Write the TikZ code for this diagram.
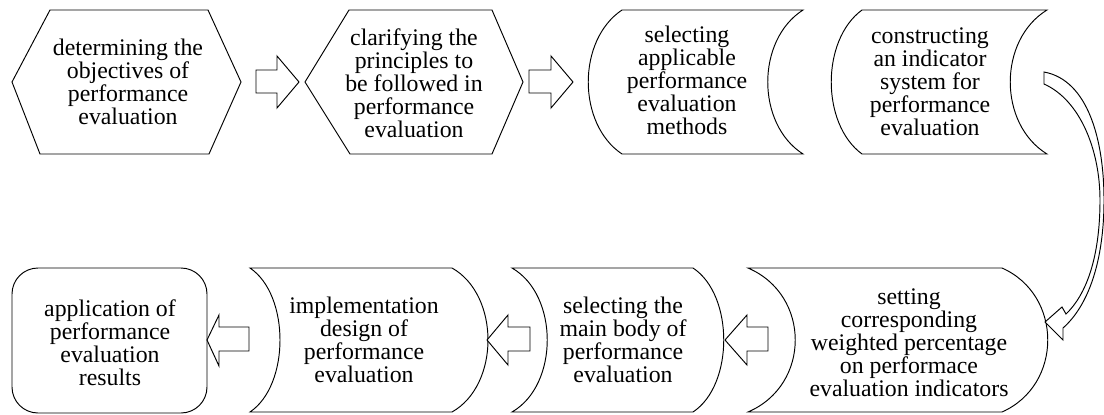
\documentclass[tikz,border=0pt]{standalone}
\usepackage{fontspec}
\setmainfont{Liberation Serif}
\begin{document}
\begin{tikzpicture}[x=1pt,y=-1pt,
  outline/.style={draw=black,line width=0.95pt,line join=miter,fill=white},
  label/.style={align=center,inner sep=0pt,font=\fontsize{23.8}{23}\selectfont}]
\useasboundingbox (0,0) rectangle (1104,415);

% ---- top row ----
% hexagon: objectives
\draw[outline] (12,82) -- (50,10) -- (208,10) -- (241,82) -- (209,154) -- (40,154) -- cycle;
\node[label] (goal) at (128,82) {determining the\\objectives of\\performance\\evaluation};

% hexagon: principles
\draw[outline] (305,82) -- (349,10) -- (492,10) -- (523,82) -- (492,154) -- (350,154) -- cycle;
\node[label] (principles) at (414,83) {clarifying the\\principles to\\be followed in\\performance\\evaluation};

% stored-data shape: methods
\draw[outline] (622,10) -- (803,10) .. controls (756,40) and (756,124) .. (803,154)
  -- (622,154) .. controls (577,124) and (577,40) .. cycle;
\node[label] (methods) at (687,80) {selecting\\applicable\\performance\\evaluation\\methods};

% stored-data shape: indicator system
\draw[outline] (862,10) -- (1047,10) .. controls (998,40) and (998,124) .. (1047,154)
  -- (862,154) .. controls (821,124) and (821,40) .. cycle;
\node[label] (system) at (930,82) {constructing\\an indicator\\system for\\performance\\evaluation};

% ---- bottom row ----
% weights
\draw[outline] (748,268) -- (1002,268) .. controls (1063,295) and (1063,385) .. (1002,412)
  -- (748,412) .. controls (811,385) and (811,295) .. cycle;
\node[label] (weights) at (909,343) {setting\\corresponding\\weighted percentage\\on performace\\evaluation indicators};

% main body
\draw[outline] (512,268) -- (693,268) .. controls (734,295) and (734,385) .. (693,412)
  -- (512,412) .. controls (559,385) and (559,295) .. cycle;
\node[label] (body) at (623,340) {selecting the\\main body of\\performance\\evaluation};

% implementation design
\draw[outline] (250,268) -- (452,268) .. controls (500,295) and (500,385) .. (452,412)
  -- (250,412) .. controls (290,385) and (290,295) .. cycle;
\node[label] (design) at (364,340) {implementation\\design of\\performance\\evaluation};

% results
\draw[outline,rounded corners=26pt] (12,268) rectangle (207,413);
\node[label] (results) at (110,343) {application of\\performance\\evaluation\\results};

% ---- block arrows ----
\draw[outline] (256,70) -- (277,70) -- (277,56) -- (299,82) -- (277,108) -- (277,93) -- (256,93) -- cycle;
\draw[outline] (529,70) -- (551,70) -- (551,56) -- (573,82) -- (551,108) -- (551,93) -- (529,93) -- cycle;
\draw[outline] (768,327) -- (747,327) -- (747,315) -- (725,340) -- (747,365) -- (747,351) -- (768,351) -- cycle;
\draw[outline] (530,327) -- (508,327) -- (508,315) -- (487,340) -- (508,365) -- (508,351) -- (530,351) -- cycle;
\draw[outline] (249,327) -- (219,327) -- (219,315) -- (207,340) -- (219,366) -- (219,351) -- (249,351) -- cycle;

% curved arrow from the indicator system down to the weights
\draw[outline] (1044,72) -- (1044,84)
  .. controls (1080,100) and (1100,150) .. (1100,200)
  .. controls (1100,258) and (1086,295) .. (1066,314)
  -- (1062,307) -- (1045,322) -- (1063,340) -- (1063,328)
  .. controls (1088,306) and (1104,262) .. (1104,200)
  .. controls (1104,140) and (1088,80) .. cycle;
\end{tikzpicture}
\end{document}
